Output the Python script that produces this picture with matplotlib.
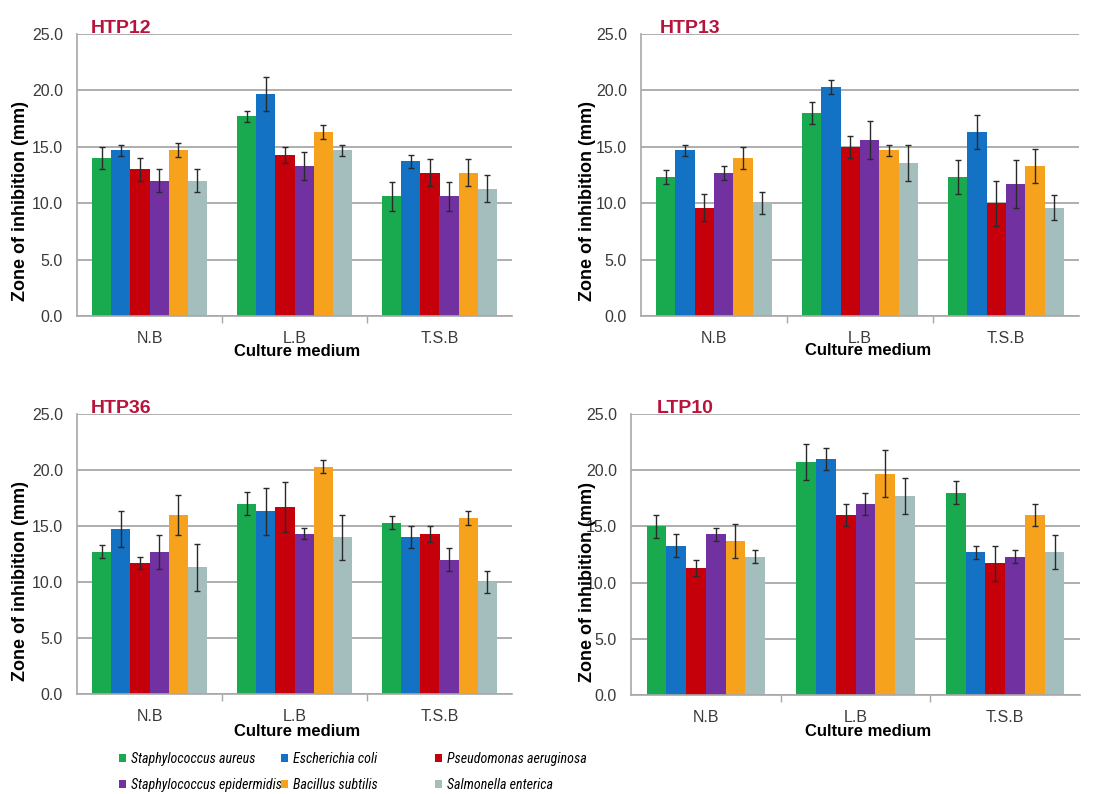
import matplotlib
matplotlib.use("Agg")
import matplotlib.pyplot as plt
from matplotlib.patches import Patch
from matplotlib.font_manager import FontProperties, fontManager
import numpy as np

# ---- data -------------------------------------------------------------
media = ["N.B", "L.B", "T.S.B"]
species = ["Staphylococcus aureus", "Escherichia coli", "Pseudomonas aeruginosa",
           "Staphylococcus epidermidis", "Bacillus subtilis", "Salmonella enterica"]
colors = ["#19a94e", "#1472c4", "#c5000b", "#7231a1", "#f6a21c", "#a4bdbd"]

# rows: species (order above), columns: culture media
htp12_mean = [[14.0, 17.7, 10.6], [14.7, 19.7, 13.7], [13.0, 14.3, 12.7],
              [12.0, 13.3, 10.6], [14.7, 16.3, 12.7], [12.0, 14.7, 11.3]]
htp12_err = [[1.0, 0.5, 1.3], [0.5, 1.5, 0.6], [1.0, 0.7, 1.2],
             [1.0, 1.2, 1.3], [0.6, 0.6, 1.2], [1.0, 0.5, 1.2]]

htp13_mean = [[12.3, 18.0, 12.3], [14.7, 20.3, 16.3], [9.6, 15.0, 10.0],
              [12.7, 15.6, 11.7], [14.0, 14.7, 13.3], [10.0, 13.6, 9.6]]
htp13_err = [[0.6, 1.0, 1.5], [0.5, 0.6, 1.5], [1.2, 1.0, 2.0],
             [0.6, 1.7, 2.1], [1.0, 0.5, 1.5], [1.0, 1.6, 1.1]]

htp36_mean = [[12.7, 17.0, 15.3], [14.7, 16.3, 14.0], [11.7, 16.7, 14.3],
              [12.7, 14.3, 12.0], [16.0, 20.3, 15.7], [11.3, 14.0, 10.0]]
htp36_err = [[0.6, 1.0, 0.6], [1.6, 2.1, 1.0], [0.5, 2.2, 0.7],
             [1.5, 0.5, 1.0], [1.8, 0.6, 0.6], [2.1, 2.0, 1.0]]

ltp10_mean = [[15.0, 20.7, 18.0], [13.3, 21.0, 12.7], [11.3, 16.0, 11.7],
              [14.3, 17.0, 12.3], [13.7, 19.7, 16.0], [12.3, 17.7, 12.7]]
ltp10_err = [[1.0, 1.6, 1.0], [1.0, 1.0, 0.6], [0.7, 1.0, 1.6],
             [0.6, 1.0, 0.6], [1.5, 2.1, 1.0], [0.6, 1.6, 1.5]]

yticks = [0, 5, 10, 15, 20, 25]

# ---- styling ------------------------------------------------------------
plt.rcParams["font.family"] = ["Liberation Sans", "DejaVu Sans"]


def is_regular(f):
    w = f.weight
    return w in (400, "normal", "regular", "book") or str(w) == "400"


def find_narrow_italic():
    found = {}
    for f in fontManager.ttflist:
        stretch = str(f.stretch)
        narrow = ("Narrow" in f.name or "Condensed" in f.name
                  or stretch in ("condensed", "semi-condensed", "extra-condensed"))
        if narrow and f.style in ("italic", "oblique") and is_regular(f):
            found.setdefault(f.name, f.fname)
    for pref in ("Liberation Sans Narrow", "Roboto Condensed", "DejaVu Sans",
                 "Open Sans Condensed"):
        if pref in found:
            return found[pref]
    return next(iter(found.values()), None)


narrow_file = find_narrow_italic()
if narrow_file:
    legend_font = FontProperties(fname=narrow_file, size=11)
else:
    legend_font = FontProperties(family="Liberation Sans", style="italic", size=10)

W, H = 1102, 794
fig = plt.figure(figsize=(W / 100, H / 100), dpi=100)
fig.patch.set_facecolor("white")
renderer = fig.canvas.get_renderer()

# size the legend text so the longest name of the first column spans ~150 px
probe = fig.text(0, 0, species[3], fontproperties=legend_font)
width_px = probe.get_window_extent(renderer).width
probe.remove()
legend_font.set_size(min(11.5, legend_font.get_size_in_points() * 150 / width_px))
legend_cols = [(0, 3, 119), (1, 4, 281), (2, 5, 435)]

grid_col = "#a8a8a8"
title_col = "#b8133b"


def fx(px):
    return px / W


def fy(py):
    return 1 - py / H


panels = [
    dict(name="HTP12", mean=htp12_mean, err=htp12_err, box=(77, 34, 512, 316),
         title=(91, 33), ylab=(21, 201), xlab=(297, 352)),
    dict(name="HTP13", mean=htp13_mean, err=htp13_err, box=(641, 34, 1079, 316),
         title=(660, 33), ylab=(587, 201), xlab=(868, 351)),
    dict(name="HTP36", mean=htp36_mean, err=htp36_err, box=(77, 414, 512, 694),
         title=(91, 413), ylab=(21, 581), xlab=(297, 732)),
    dict(name="LTP10", mean=ltp10_mean, err=ltp10_err, box=(631, 414, 1080, 695),
         title=(657, 413), ylab=(587, 582), xlab=(868, 732)),
]

x = np.arange(len(media))
n = len(species)
bar_w = 0.132

for p in panels:
    l, t, r, b = p["box"]
    ax = fig.add_axes([fx(l), fy(b), (r - l) / W, (b - t) / H])
    for i in range(n):
        ax.bar(x + (i - (n - 1) / 2) * bar_w, p["mean"][i], bar_w,
               color=colors[i], yerr=p["err"][i], zorder=2,
               error_kw=dict(ecolor="#2a2a2a", elinewidth=1.0,
                             capsize=2.5, capthick=1.0, zorder=3))
    ax.set_xlim(-0.5, len(media) - 0.5)
    ax.set_ylim(0, 25)
    ax.set_yticks(yticks)
    ax.set_yticklabels([f"{v:.1f}" for v in yticks])
    ax.yaxis.grid(True, color=grid_col, lw=1.3)
    ax.set_axisbelow(True)
    for s in ("top", "right"):
        ax.spines[s].set_visible(False)
    for s in ("left", "bottom"):
        ax.spines[s].set_color(grid_col)
        ax.spines[s].set_linewidth(1.2)
    ax.tick_params(axis="y", length=0, pad=10, labelsize=11.5, labelcolor="#3a3a3a")
    # group separators as short ticks, category names centred under groups
    ax.set_xticks([0.5, 1.5])
    ax.set_xticklabels([])
    ax.tick_params(axis="x", which="major", length=5, color=grid_col, width=1.0)
    ax.set_xticks(x, minor=True)
    ax.set_xticklabels(media, minor=True)
    ax.tick_params(axis="x", which="minor", length=0, pad=10.5, labelsize=11.5,
                   labelcolor="#3a3a3a")

    fig.text(fx(p["title"][0]), fy(p["title"][1]), p["name"], color=title_col,
             fontsize=14, fontweight="bold", ha="left", va="baseline")
    fig.text(fx(p["ylab"][0]), fy(p["ylab"][1]), "Zone of inhibition (mm)",
             rotation=90, ha="center", va="center", fontsize=13, fontweight="bold")
    fig.text(fx(p["xlab"][0]), fy(p["xlab"][1]), "Culture medium",
             ha="center", va="center", fontsize=12, fontweight="bold")

# legend laid out in three columns of two entries each
s_px = legend_font.get_size_in_points() * 100 / 72
line_h = 0.887 * s_px
spacing = (25 - line_h) / s_px
top = 758 - line_h / 2
for a, c, xpos in legend_cols:
    handles = [Patch(facecolor=colors[a]), Patch(facecolor=colors[c])]
    labels = [species[a], species[c]]
    fig.legend(handles, labels, loc="upper left",
               bbox_to_anchor=(fx(xpos), fy(top)), frameon=False,
               borderpad=0, borderaxespad=0, handlelength=0.5, handleheight=0.5,
               handletextpad=0.35, labelspacing=spacing, prop=legend_font)

fig.savefig("out.png", dpi=100, facecolor="white")
